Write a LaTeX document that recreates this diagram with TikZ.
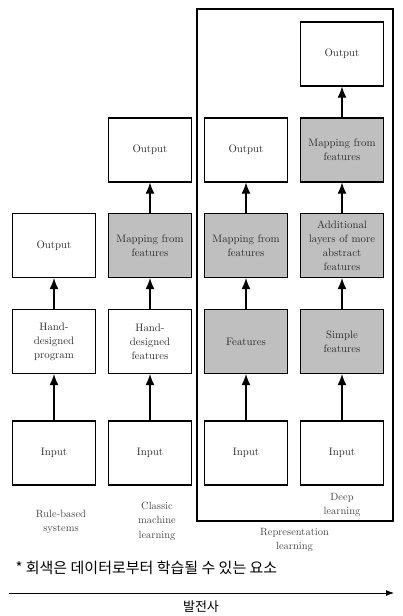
\documentclass[tikz,border=0pt]{standalone}
\usepackage{fontspec}
\newfontfamily\kofont{Noto Sans CJK KR}
\usetikzlibrary{arrows.meta}

\definecolor{boxtext}{RGB}{45,45,45}
\definecolor{captext}{RGB}{70,70,70}
\definecolor{learned}{RGB}{191,191,191}

\tikzset{
  block/.style={draw, line width=1.2pt, minimum width=80pt, minimum height=64pt,
    text width=76pt, align=center, text=boxtext,
    font=\fontsize{10.8}{14}\selectfont},
  learnblock/.style={block, fill=learned},
  flow/.style={line width=1.2pt, -{Latex[length=11pt,width=9pt]}},
  caption/.style={align=center, text=captext, font=\fontsize{10.5}{14.5}\selectfont}
}

\begin{document}
\begin{tikzpicture}[x=1pt,y=-1pt]
\useasboundingbox (0,0) rectangle (402,616);

% Rule-based systems
\node[block] (rb-in)   at (54,453)   {Input};
\node[block] (rb-prog) at (54,341.5) {Hand-\\designed\\program};
\node[block] (rb-out)  at (54,245.5) {Output};
\draw[flow] (rb-in) -- (rb-prog);
\draw[flow] (rb-prog) -- (rb-out);

% Classic machine learning
\node[block]      (cm-in)   at (150,453)   {Input};
\node[block]      (cm-feat) at (150,341.5) {Hand-\\designed\\features};
\node[learnblock] (cm-map)  at (150,245.5) {Mapping from\\features};
\node[block]      (cm-out)  at (150,150)   {Output};
\draw[flow] (cm-in) -- (cm-feat);
\draw[flow] (cm-feat) -- (cm-map);
\draw[flow] (cm-map) -- (cm-out);

% Representation learning
\node[block]      (rl-in)   at (246,453)   {Input};
\node[learnblock] (rl-feat) at (246,341.5) {Features};
\node[learnblock] (rl-map)  at (246,245.5) {Mapping from\\features};
\node[block]      (rl-out)  at (246,150)   {Output};
\draw[flow] (rl-in) -- (rl-feat);
\draw[flow] (rl-feat) -- (rl-map);
\draw[flow] (rl-map) -- (rl-out);

% Deep learning
\node[block]      (dl-in)   at (342,453)   {Input};
\node[learnblock] (dl-simp) at (342,341.5) {Simple\\features};
\node[learnblock] (dl-abs)  at (342,245.5) {Additional\\layers of more\\abstract\\features};
\node[learnblock] (dl-map)  at (342,150)   {Mapping from\\features};
\node[block]      (dl-out)  at (342,54)    {Output};
\draw[flow] (dl-in) -- (dl-simp);
\draw[flow] (dl-simp) -- (dl-abs);
\draw[flow] (dl-abs) -- (dl-map);
\draw[flow] (dl-map) -- (dl-out);

% frame round representation learning
\draw[line width=1.2pt] (197,9) rectangle (393,521);

% captions
\node[caption] (rb-cap) at (61,522)    {Rule-based\\systems};
\node[caption] (cm-cap) at (157,521)   {Classic\\machine\\learning};
\node[caption] (dl-cap) at (342,505)   {Deep\\learning};
\node[caption] (rl-cap) at (294.5,540) {Representation\\learning};

% note and time line
\node[anchor=west, font=\kofont\fontsize{15}{18}\selectfont] (note) at (12,568)
  {* 회색은 데이터로부터 학습될 수 있는 요소};
\coordinate (tl-start) at (9,593);
\coordinate (tl-end) at (394,593);
\draw[line width=0.9pt, -{Latex[length=8pt,width=6pt]}] (tl-start) -- (tl-end);
\node[font=\kofont\fontsize{13}{16}\selectfont] (tl-label) at (201,607) {발전사};
\end{tikzpicture}
\end{document}
